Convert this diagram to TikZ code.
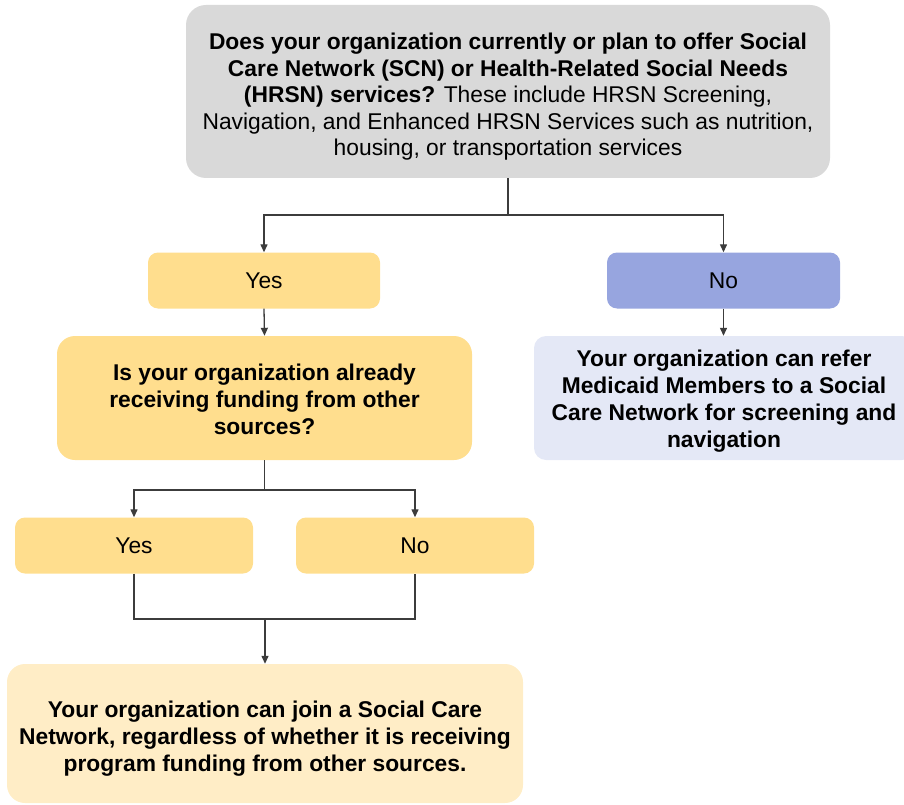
\documentclass[tikz,border=0pt]{standalone}
\usepackage{fontspec}
\setmainfont{Liberation Sans}
\usetikzlibrary{arrows.meta}

\definecolor{qgray}{HTML}{D9D9D9}
\definecolor{ansyellow}{HTML}{FFDE8E}
\definecolor{ansblue}{HTML}{97A5DF}
\definecolor{resblue}{HTML}{E4E8F6}
\definecolor{resyellow}{HTML}{FFEDC6}
\definecolor{linkgray}{HTML}{3C3C3C}

% taller first line, pushes a text block a little lower in its box
\newcommand\headroom[1]{\rule{0pt}{#1}}

\tikzset{
  box/.style={rectangle, draw=none, align=center, inner sep=0pt,
    font=\fontsize{22.8}{27}\selectfont},
  question/.style={box, fill=qgray, rounded corners=20pt,
    minimum width=644pt, minimum height=173pt,
    font=\fontsize{22.8}{26.5}\selectfont},
  answer/.style={box, rounded corners=10pt, minimum height=56pt},
  result/.style={box, rounded corners=16pt, font=\fontsize{22.8}{27}\selectfont\bfseries},
  link/.style={draw=linkgray, line width=1.3pt},
  arr/.style={link, -{Triangle[length=8pt,width=7pt]}},
}

\begin{document}
\begin{tikzpicture}[x=1pt, y=-1pt]
  \clip (0,0) rectangle (904,805);

  % first question
  \node[question] (q1) at (508,91.5)
    {\headroom{27pt}\textbf{Does your organization currently or plan to offer Social}\\
     \textbf{Care Network (SCN) or Health-Related Social Needs}\\
     \textbf{(HRSN) services?} These include HRSN Screening,\\
     Navigation, and Enhanced HRSN Services such as nutrition,\\
     housing, or transportation services};

  % answers to the first question
  \node[answer, fill=ansyellow, minimum width=232pt] (yes1) at (264,280.5) {Yes};
  \node[answer, fill=ansblue, minimum width=233pt] (no1) at (723.5,280.5) {No};

  % second question
  \node[result, fill=ansyellow, rounded corners=18pt,
        minimum width=415pt, minimum height=124pt] (q2) at (264.5,398)
    {\headroom{19pt}Is your organization already\\ receiving funding from other\\ sources?};

  % outcome for "No"
  \node[result, fill=resblue, rounded corners=12pt,
        minimum width=380pt, minimum height=124pt] (refer) at (724,398)
    {\headroom{23pt}Your organization can refer\\ Medicaid Members to a Social\\
     Care Network for screening and\\ navigation};

  % answers to the second question
  \node[answer, fill=ansyellow, minimum width=238pt] (yes2) at (134,545.5) {Yes};
  \node[answer, fill=ansyellow, minimum width=238pt] (no2) at (415,545.5) {No};

  % final outcome
  \node[result, fill=resyellow, rounded corners=18pt,
        minimum width=516pt, minimum height=139pt] (join) at (265,733.5)
    {\headroom{27pt}Your organization can join a Social Care\\
     Network, regardless of whether it is receiving\\
     program funding from other sources.};

  % junction points
  \coordinate (j1) at (508,215);
  \coordinate (j2) at (264.5,490);
  \coordinate (j3) at (265,619);

  % connectors
  \draw[link] (q1.south) -- (j1);
  \draw[arr] (j1) -| (yes1.north);
  \draw[arr] (j1) -| (no1.north);
  \draw[arr] (yes1.south) -- (q2.north);
  \draw[arr] (no1.south) -- (refer.north -| no1.south);
  \draw[link] (q2.south) -- (j2);
  \draw[arr] (j2) -| (yes2.north);
  \draw[arr] (j2) -| (no2.north);
  \draw[link] (yes2.south) |- (j3) -| (no2.south);
  \draw[arr] (j3) -- (join.north -| j3);
\end{tikzpicture}
\end{document}
